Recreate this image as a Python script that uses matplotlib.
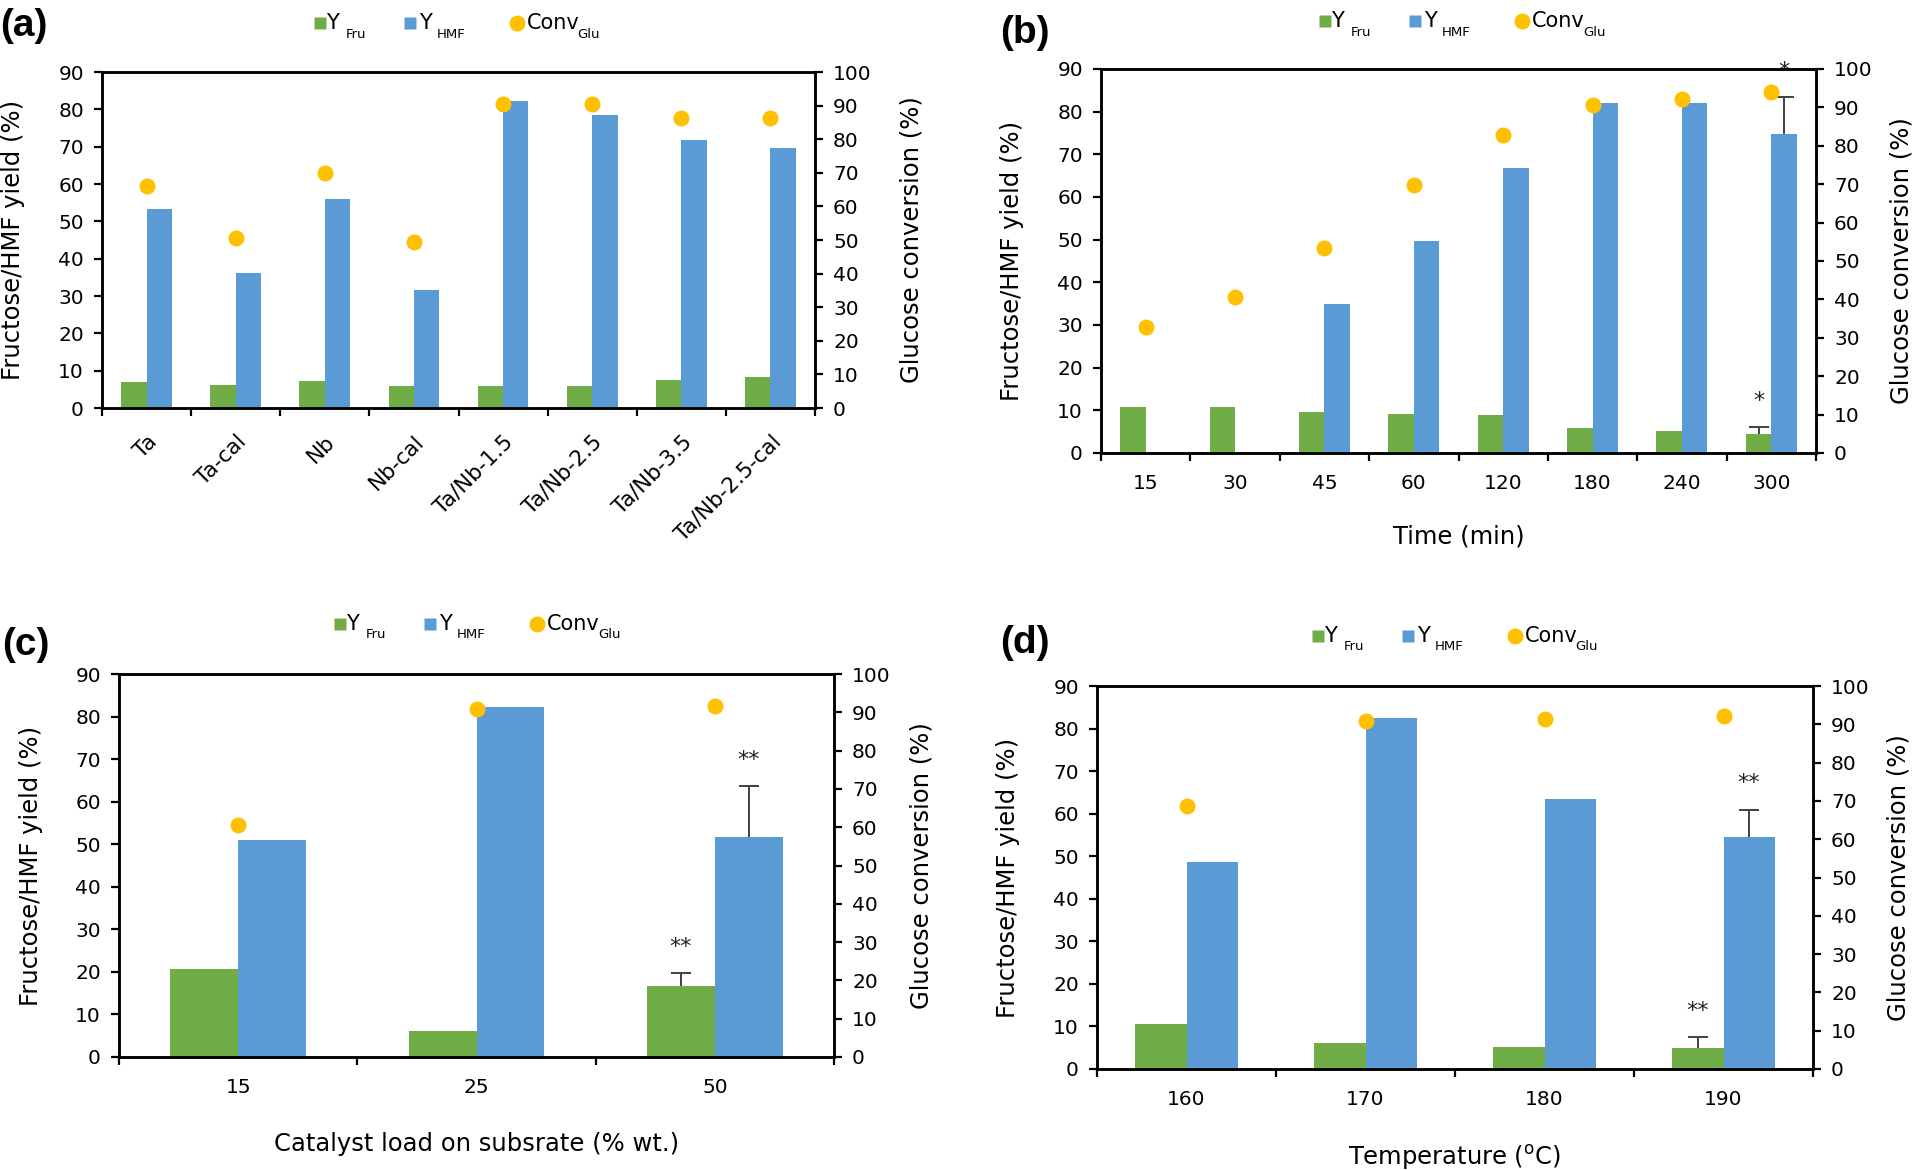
import matplotlib
matplotlib.use('Agg')
import matplotlib.pyplot as plt
from matplotlib.lines import Line2D
import numpy as np

plt.rcParams['font.family'] = ['DejaVu Sans']
plt.rcParams['mathtext.fontset'] = 'dejavusans'

GREEN = '#70AD47'
BLUE = '#5B9BD5'
ORANGE = '#FFC000'
ERRC = '#404040'

# ---------------- data ----------------
a_cats = ['Ta', 'Ta-cal', 'Nb', 'Nb-cal', 'Ta/Nb-1.5', 'Ta/Nb-2.5', 'Ta/Nb-3.5', 'Ta/Nb-2.5-cal']
a_fru = [6.9, 6.2, 7.3, 5.8, 5.9, 5.9, 7.6, 8.2]
a_hmf = [53.2, 36.2, 55.9, 31.6, 82.1, 78.4, 71.7, 69.7]
a_conv = [66.1, 50.6, 70.0, 49.3, 90.6, 90.6, 86.2, 86.2]

b_cats = ['15', '30', '45', '60', '120', '180', '240', '300']
b_fru = [10.7, 10.7, 9.5, 9.2, 8.8, 5.8, 5.1, 4.4]
b_hmf = [0, 0, 35.0, 49.8, 66.7, 82.1, 82.1, 74.7]
b_conv = [32.7, 40.7, 53.5, 69.7, 82.8, 90.7, 92.2, 94.1]
b_fru_err = [0, 0, 0, 0, 0, 0, 0, 1.7]
b_hmf_err = [0, 0, 0, 0, 0, 0, 0, 8.7]
b_fru_sig = ['', '', '', '', '', '', '', '*']
b_hmf_sig = ['', '', '', '', '', '', '', '*']

c_cats = ['15', '25', '50']
c_fru = [20.6, 6.2, 16.6]
c_hmf = [51.0, 82.2, 51.7]
c_conv = [60.5, 90.9, 91.7]
c_fru_err = [0, 0, 3.1]
c_hmf_err = [0, 0, 11.9]
c_fru_sig = ['', '', '**']
c_hmf_sig = ['', '', '**']

d_cats = ['160', '170', '180', '190']
d_fru = [10.6, 6.1, 5.1, 4.9]
d_hmf = [48.7, 82.4, 63.4, 54.5]
d_conv = [68.6, 90.8, 91.5, 92.2]
d_fru_err = [0, 0, 0, 2.6]
d_hmf_err = [0, 0, 0, 6.4]
d_fru_sig = ['', '', '', '**']
d_hmf_sig = ['', '', '', '**']

left_ticks = list(range(0, 91, 10))
right_ticks = list(range(0, 101, 10))

legend_main = ['Y', 'Y', 'Conv']
legend_sub = ['Fru', 'HMF', 'Glu']

W, H = 1917, 1170
fig = plt.figure(figsize=(W / 100, H / 100), dpi=100)

TICK_FS = 14.5
LABEL_FS = 17.5


def fx(px):
    return px / W


def fy(py):
    return 1 - py / H


def rect(l, r, t, b):
    return [l / W, 1 - b / H, (r - l) / W, (b - t) / H]


def draw_legend(gx, gy):
    # gx, gy: pixel position (from top-left) of the green square centre
    colors = [GREEN, BLUE, ORANGE]
    markers = ['s', 's', 'o']
    msizes = [8, 8, 11.5]
    mark_dx = [0, 90, 197]
    main_dx = [6.5, 99.5, 207]
    sub_dx = [26, 117, 258]
    for i in range(3):
        fig.add_artist(Line2D([fx(gx + mark_dx[i])], [fy(gy)], transform=fig.transFigure,
                              linestyle='none', marker=markers[i], markersize=msizes[i],
                              markerfacecolor=colors[i], markeredgecolor='none'))
        fig.text(fx(gx + main_dx[i]), fy(gy + 6), legend_main[i], fontsize=15,
                 ha='left', va='baseline')
        fig.text(fx(gx + sub_dx[i]), fy(gy + 14.5), legend_sub[i], fontsize=9.5,
                 ha='left', va='baseline')


def sig_and_err(ax, xs, vals, errs, sigs):
    for xi, v, e, s in zip(xs, vals, errs, sigs):
        if e > 0:
            _, caps, _ = ax.errorbar(xi, v, yerr=[[0], [e]], color=ERRC, elinewidth=1.4,
                                     capsize=7, capthick=1.4, zorder=3)
            caps[0].set_visible(False)
        if s:
            ax.annotate(s, (xi, v + e), xytext=(0, 19), textcoords='offset points',
                        ha='center', va='center', fontsize=16, color='#222222')


def panel(box, cats, fru, hmf, conv, fru_err=None, hmf_err=None,
          fru_sig=None, hmf_sig=None, xlabel=None, rotate=False,
          leg=(0, 0), tag='', tag_pos=(0, 0), llab_x=-0.108, rlab_x=1.105,
          xlab_y=-0.19):
    ax = fig.add_axes(rect(*box))
    n = len(cats)
    x = np.arange(n)
    w = 0.285
    ax.bar(x - w / 2, fru, width=w, color=GREEN, zorder=2)
    ax.bar(x + w / 2, hmf, width=w, color=BLUE, zorder=2)
    if fru_err is not None:
        sig_and_err(ax, x - w / 2, fru, fru_err, fru_sig)
    if hmf_err is not None:
        sig_and_err(ax, x + w / 2, hmf, hmf_err, hmf_sig)
    ax.set_xlim(-0.5, n - 0.5)
    ax.set_ylim(0, 90)
    ax.set_yticks(left_ticks)
    ax.set_xticks(np.arange(n + 1) - 0.5)
    ax.set_xticklabels([])
    ax.set_xticks(x, minor=True)
    if rotate:
        ax.set_xticklabels(cats, minor=True, rotation=45, ha='right', va='top',
                           rotation_mode='anchor', fontsize=15.5)
        ax.tick_params(axis='x', which='minor', length=0, pad=17)
    else:
        ax.set_xticklabels(cats, minor=True, fontsize=TICK_FS)
        ax.tick_params(axis='x', which='minor', length=0, pad=15)
    ax.tick_params(axis='x', which='major', direction='out', length=6, width=1.6)
    ax.tick_params(axis='y', direction='out', length=6, width=1.6,
                   labelsize=TICK_FS, pad=7)
    for sp in ax.spines.values():
        sp.set_linewidth(1.8)
    ax.set_ylabel('Fructose/HMF yield (%)', fontsize=LABEL_FS)
    ax.yaxis.set_label_coords(llab_x, 0.5)
    if xlabel:
        ax.set_xlabel(xlabel, fontsize=LABEL_FS)
        ax.xaxis.set_label_coords(0.5, xlab_y)

    ax2 = ax.twinx()
    ax2.plot(x, conv, linestyle='none', marker='o', markersize=11.5,
             markerfacecolor=ORANGE, markeredgecolor='none', zorder=4)
    ax2.set_ylim(0, 100)
    ax2.set_yticks(right_ticks)
    ax2.tick_params(axis='y', direction='out', length=6, width=1.6,
                    labelsize=TICK_FS, pad=7)
    for sp in ax2.spines.values():
        sp.set_linewidth(1.8)
    ax2.set_ylabel('Glucose conversion (%)', fontsize=LABEL_FS, rotation=90)
    ax2.yaxis.set_label_coords(rlab_x, 0.5)

    draw_legend(*leg)
    fig.text(fx(tag_pos[0]), fy(tag_pos[1]), tag, fontsize=28, family='Liberation Sans',
             fontweight='bold', ha='left', va='center')
    return ax


panel((102, 815, 72, 408), a_cats, a_fru, a_hmf, a_conv, rotate=True,
      leg=(319.5, 23), tag='(a)', tag_pos=(0, 26), llab_x=-0.108, rlab_x=1.119)
panel((1101, 1816, 69, 453), b_cats, b_fru, b_hmf, b_conv,
      b_fru_err, b_hmf_err, b_fru_sig, b_hmf_sig, xlabel='Time (min)',
      leg=(1325, 21), tag='(b)', tag_pos=(1000, 33), llab_x=-0.108, rlab_x=1.103,
      xlab_y=-0.185)
panel((119, 834, 674, 1057), c_cats, c_fru, c_hmf, c_conv,
      c_fru_err, c_hmf_err, c_fru_sig, c_hmf_sig,
      xlabel='Catalyst load on subsrate (% wt.)',
      leg=(340, 624), tag='(c)', tag_pos=(2, 645), llab_x=-0.106, rlab_x=1.105,
      xlab_y=-0.196)
panel((1097, 1813, 686, 1069), d_cats, d_fru, d_hmf, d_conv,
      d_fru_err, d_hmf_err, d_fru_sig, d_hmf_sig,
      xlabel=r'Temperature ($^{\mathregular{o}}$C)',
      leg=(1317.5, 636), tag='(d)', tag_pos=(1000, 643), llab_x=-0.107, rlab_x=1.102,
      xlab_y=-0.193)

fig.savefig('out.png', dpi=100, facecolor='white')
